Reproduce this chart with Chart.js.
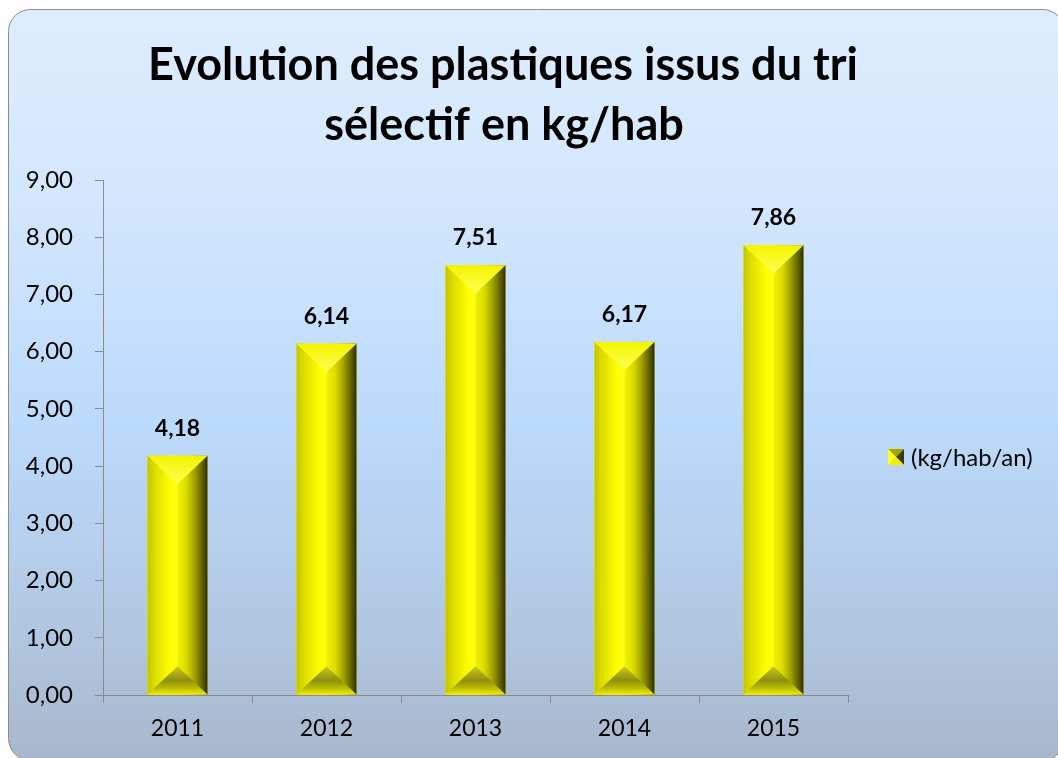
<!DOCTYPE html>
<html>
<head>
<meta charset="utf-8">
<script src="https://cdn.jsdelivr.net/npm/chart.js@4.4.1/dist/chart.umd.min.js"></script>
<style>
  html, body { margin: 0; padding: 0; background: #ffffff; }
  #c { display: block; }
</style>
</head>
<body>
<canvas id="c" width="1058" height="758"></canvas>
<script>
// ---- data ----
const categories = ['2011', '2012', '2013', '2014', '2015'];
const values = [4.18, 6.14, 7.51, 6.17, 7.86];
const seriesLabel = '(kg/hab/an)';
const titleLines = ['Evolution des plastiques issus du tri', 'sélectif en kg/hab'];
const yMin = 0;
const yMax = 9;
const yStep = 1;

const FONT = 'Lato, "Noto Sans", "Liberation Sans", sans-serif';
const fmt = v => Number(v).toFixed(2).replace('.', ',');

// ---- background panel ----
const bgPlugin = {
  id: 'bgPanel',
  beforeDraw(chart) {
    const ctx = chart.ctx;
    const x = 8.5, y = 9.5, w = 1056, h = 751, r = 22;
    ctx.save();
    const g = ctx.createLinearGradient(0, y, 0, y + h);
    g.addColorStop(0, '#deedfe');
    g.addColorStop(0.25, '#d3e7fd');
    g.addColorStop(0.55, '#bcdafb');
    g.addColorStop(0.8, '#b2c9e4');
    g.addColorStop(1, '#a8b7cb');
    ctx.beginPath();
    ctx.moveTo(x + r, y);
    ctx.lineTo(x + w - r, y);
    ctx.arcTo(x + w, y, x + w, y + r, r);
    ctx.lineTo(x + w, y + h - r);
    ctx.arcTo(x + w, y + h, x + w - r, y + h, r);
    ctx.lineTo(x + r, y + h);
    ctx.arcTo(x, y + h, x, y + h - r, r);
    ctx.lineTo(x, y + r);
    ctx.arcTo(x, y, x + r, y, r);
    ctx.closePath();
    ctx.fillStyle = g;
    ctx.fill();
    ctx.strokeStyle = '#8c8c8c';
    ctx.lineWidth = 1;
    ctx.stroke();
    ctx.restore();
  }
};

// ---- bevelled bars + value labels ----
function bevelRect(ctx, left, top, width, bottom) {
  const right = left + width;
  const cx = left + width / 2;
  const h = bottom - top;
  const g = ctx.createLinearGradient(left, 0, right, 0);
  g.addColorStop(0, '#c4c400');
  g.addColorStop(0.12, '#dcdc00');
  g.addColorStop(0.38, '#ffff00');
  g.addColorStop(0.495, '#ffff14');
  g.addColorStop(0.505, '#f2f200');
  g.addColorStop(0.65, '#dada00');
  g.addColorStop(0.8, '#9a9a00');
  g.addColorStop(0.92, '#5c5c00');
  g.addColorStop(1, '#2c2c08');
  ctx.fillStyle = g;
  ctx.fillRect(left, top, width, h);
  const depth = Math.min(width * 0.47, h / 2);
  // top bevel
  const gt = ctx.createLinearGradient(0, top, 0, top + depth);
  gt.addColorStop(0, '#f4f400');
  gt.addColorStop(1, '#ffff55');
  ctx.beginPath();
  ctx.moveTo(left, top);
  ctx.lineTo(right, top);
  ctx.lineTo(cx, top + depth);
  ctx.closePath();
  ctx.fillStyle = gt;
  ctx.fill();
  // bottom bevel
  const gb = ctx.createLinearGradient(0, bottom - depth, 0, bottom);
  gb.addColorStop(0, '#cccc20');
  gb.addColorStop(0.5, '#8e8e10');
  gb.addColorStop(0.82, '#c4c400');
  gb.addColorStop(1, '#eeee00');
  ctx.beginPath();
  ctx.moveTo(left, bottom);
  ctx.lineTo(right, bottom);
  ctx.lineTo(cx, bottom - depth);
  ctx.closePath();
  ctx.fillStyle = gb;
  ctx.fill();
}

const barPlugin = {
  id: 'bevelBars',
  afterDatasetsDraw(chart) {
    const ctx = chart.ctx;
    ctx.save();
    chart.data.datasets.forEach((ds, di) => {
      const meta = chart.getDatasetMeta(di);
      meta.data.forEach((el, i) => {
        const p = el.getProps(['x', 'y', 'base', 'width'], true);
        const left = p.x - p.width / 2;
        bevelRect(ctx, left, Math.min(p.y, p.base), p.width, Math.max(p.y, p.base));
        ctx.fillStyle = '#000000';
        ctx.font = 'bold 23px ' + FONT;
        ctx.textAlign = 'center';
        ctx.textBaseline = 'alphabetic';
        ctx.fillText(fmt(ds.data[i]), p.x, p.y - 20);
      });
    });
    ctx.restore();
  }
};

// ---- title + legend ----
const textPlugin = {
  id: 'titleLegend',
  afterDraw(chart) {
    const ctx = chart.ctx;
    ctx.save();
    ctx.fillStyle = '#000000';
    ctx.textAlign = 'center';
    ctx.textBaseline = 'alphabetic';
    ctx.font = 'bold 45px ' + FONT;
    ctx.fillText(titleLines[0], 503, 80);
    ctx.fillText(titleLines[1], 504, 140);

    // legend
    const bx = 888, by = 449, bw = 16, bh = 16;
    const cx = bx + bw / 2, cy = by + bh / 2;
    const tri = (pts, color) => {
      ctx.beginPath();
      ctx.moveTo(pts[0][0], pts[0][1]);
      ctx.lineTo(pts[1][0], pts[1][1]);
      ctx.lineTo(pts[2][0], pts[2][1]);
      ctx.closePath();
      ctx.fillStyle = color;
      ctx.fill();
    };
    tri([[bx, by], [bx + bw, by], [cx, cy]], '#a8a800');
    tri([[bx + bw, by], [bx + bw, by + bh], [cx, cy]], '#3c3c00');
    tri([[bx, by + bh], [bx + bw, by + bh], [cx, cy]], '#f0f000');
    tri([[bx, by], [bx, by + bh], [cx, cy]], '#ffff20');
    ctx.fillStyle = '#000000';
    ctx.textAlign = 'left';
    ctx.textBaseline = 'middle';
    ctx.font = '24px ' + FONT;
    ctx.fillText(chart.data.datasets[0].label, 911, 458);
    ctx.restore();
  }
};

new Chart(document.getElementById('c'), {
  type: 'bar',
  data: {
    labels: categories,
    datasets: [{
      label: seriesLabel,
      data: values,
      backgroundColor: '#ffff00',
      borderWidth: 0,
      categoryPercentage: 1,
      barPercentage: 0.403
    }]
  },
  options: {
    responsive: false,
    devicePixelRatio: 1,
    animation: false,
    layout: { padding: { top: 180, right: 210, left: 0, bottom: 0 } },
    plugins: {
      legend: { display: false },
      title: { display: false },
      tooltip: { enabled: false }
    },
    scales: {
      x: {
        afterFit(scale) { scale.height = 63; },
        grid: { display: true, drawOnChartArea: false, drawTicks: true, tickLength: 8, color: '#8c8c8c', offset: true },
        border: { display: true, color: '#8c8c8c', width: 1 },
        ticks: { color: '#000000', padding: 12, font: { family: FONT, size: 23 } }
      },
      y: {
        min: yMin,
        max: yMax,
        afterFit(scale) { scale.width = 103; },
        grid: { display: true, drawOnChartArea: false, drawTicks: true, tickLength: 8, color: '#8c8c8c' },
        border: { display: true, color: '#8c8c8c', width: 1 },
        ticks: {
          stepSize: yStep,
          color: '#000000',
          padding: 22,
          font: { family: FONT, size: 24 },
          callback: v => fmt(v)
        }
      }
    }
  },
  plugins: [bgPlugin, barPlugin, textPlugin]
});
</script>
</body>
</html>
